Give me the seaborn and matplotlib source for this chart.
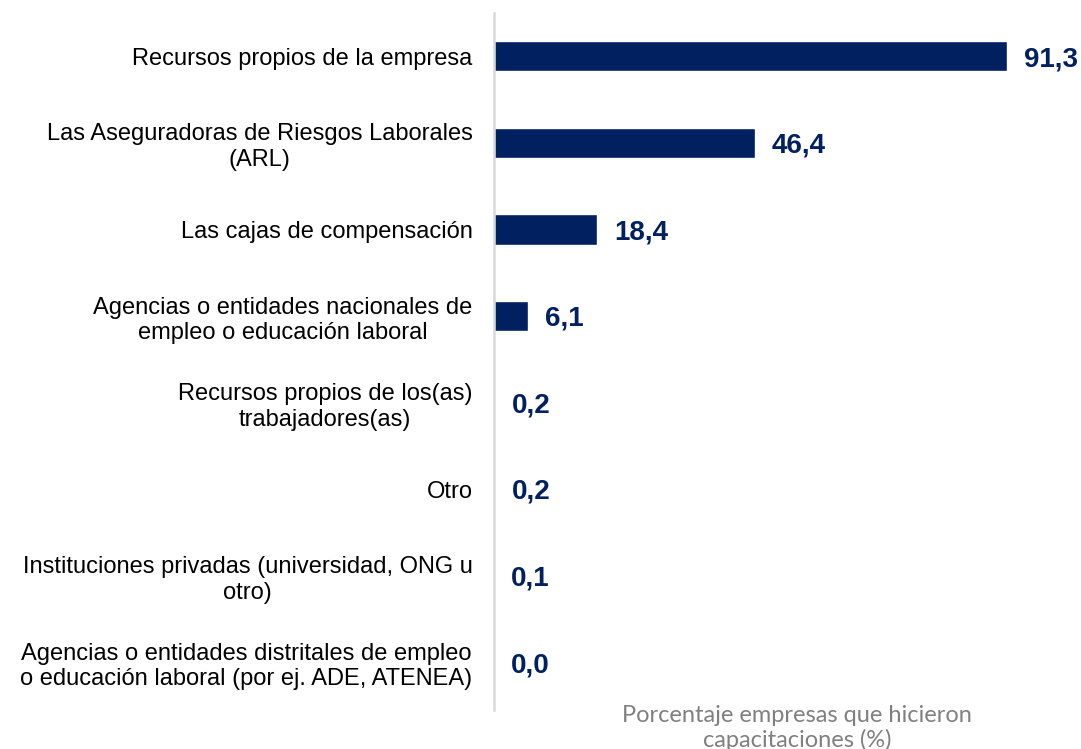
import matplotlib
matplotlib.use("Agg")
import matplotlib.pyplot as plt
import seaborn as sns
import pandas as pd

categorias = [
    "Recursos propios de la empresa",
    "Las Aseguradoras de Riesgos Laborales\n(ARL)",
    "Las cajas de compensación",
    "Agencias o entidades nacionales de\nempleo o educación laboral",
    "Recursos propios de los(as)\ntrabajadores(as)",
    "Otro",
    "Instituciones privadas (universidad, ONG u\notro)",
    "Agencias o entidades distritales de empleo\no educación laboral (por ej. ADE, ATENEA)",
]
valores = [91.3, 46.4, 18.4, 6.1, 0.2, 0.2, 0.1, 0.0]
etiquetas = ["91,3", "46,4", "18,4", "6,1", "0,2", "0,2", "0,1", "0,0"]
nota_eje = "Porcentaje empresas que hicieron\ncapacitaciones (%)"

AZUL = "#002060"

sns.set_theme(style="white")
plt.rcParams["font.family"] = ["Liberation Sans", "DejaVu Sans"]

df = pd.DataFrame({"categoria": categorias, "valor": valores})

fig = plt.figure(figsize=(10.81, 7.49), dpi=100)
ax = fig.add_axes([494 / 1081, 1 - 710 / 749, (1081 - 494) / 1081, (710 - 13) / 749])

sns.barplot(data=df, x="valor", y="categoria", orient="h", color=AZUL,
            width=0.35, saturation=1, ax=ax)

ax.set_xlim(0, (1081 - 494) / 5.62)
ax.set_ylim(7.55, -0.5)

for i, (v, t) in enumerate(zip(valores, etiquetas)):
    ax.annotate(t, xy=(v, i), xytext=(12, -2), textcoords="offset points",
                ha="left", va="center", fontsize=20, fontweight="bold",
                color=AZUL)

ax.set_xlabel("")
ax.set_ylabel("")
ax.set_xticks([])
ax.tick_params(axis="y", length=0, pad=15.5, labelsize=17, labelcolor="#000000")
for lbl in ax.get_yticklabels():
    lbl.set_multialignment("center")
    lbl.set_linespacing(1.2)

for s in ["top", "right", "bottom"]:
    ax.spines[s].set_visible(False)
ax.spines["left"].set_color("#d9d9d9")
ax.spines["left"].set_linewidth(1.8)

fig.text(797 / 1081, 1 - 728 / 749, nota_eje, ha="center", va="center",
         fontsize=17, color="#808080", family=["Lato", "DejaVu Sans"],
         linespacing=1.15)

fig.savefig("out.png", dpi=100)
